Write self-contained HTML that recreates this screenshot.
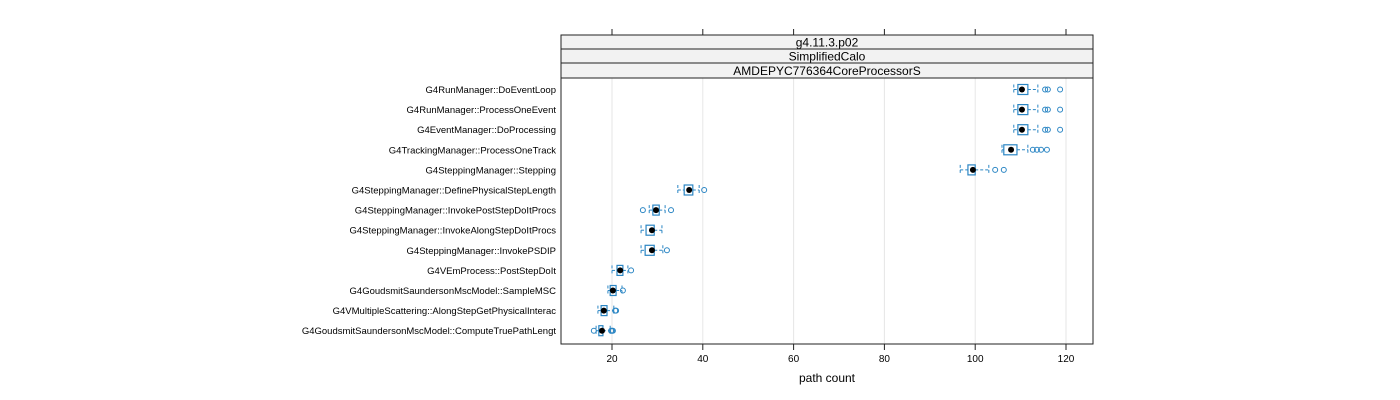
<!DOCTYPE html>
<html><head><meta charset="utf-8"><style>
body{margin:0;background:#fff;}
svg{display:block;font-family:"Liberation Sans",sans-serif;}
</style></head><body>
<svg id="chart" width="1400" height="400">
<g id="strips">
<rect x="561" y="35" width="532" height="14" fill="#f2f2f2" stroke="#222" stroke-width="1"/>
<text x="827" y="46.5" font-size="12" text-anchor="middle">g4.11.3.p02</text>
<rect x="561" y="49" width="532" height="14" fill="#f2f2f2" stroke="#222" stroke-width="1"/>
<text x="827" y="60.5" font-size="12" text-anchor="middle">SimplifiedCalo</text>
<rect x="561" y="63" width="532" height="15" fill="#f2f2f2" stroke="#222" stroke-width="1"/>
<text x="827" y="75" font-size="12" text-anchor="middle">AMDEPYC776364CoreProcessorS</text>
</g>
<g id="grid"></g>
<g id="marks"></g>
<rect x="561" y="78" width="532" height="266" fill="none" stroke="#222" stroke-width="1"/>
<g id="axes"></g>
<text x="827" y="382" font-size="12" text-anchor="middle">path count</text>
</svg>
<script>
const categories=["G4RunManager::DoEventLoop","G4RunManager::ProcessOneEvent","G4EventManager::DoProcessing","G4TrackingManager::ProcessOneTrack","G4SteppingManager::Stepping","G4SteppingManager::DefinePhysicalStepLength","G4SteppingManager::InvokePostStepDoItProcs","G4SteppingManager::InvokeAlongStepDoItProcs","G4SteppingManager::InvokePSDIP","G4VEmProcess::PostStepDoIt","G4GoudsmitSaundersonMscModel::SampleMSC","G4VMultipleScattering::AlongStepGetPhysicalInterac","G4GoudsmitSaundersonMscModel::ComputeTruePathLengt"];
const whiskerLow=[108.5,108.5,108.5,105.9,96.7,34.5,28.2,26.4,26.4,20,19.1,16.9,16.5];
const q1=[109.4,109.4,109.4,106.3,98.4,35.9,29,27.5,27.3,21.1,19.6,17.6,17.1];
const median=[110.3,110.3,110.3,107.9,99.5,37,29.7,28.8,28.8,21.8,20.2,18.2,17.8];
const q3=[111.6,111.6,111.6,109.2,100,37.8,30.4,29.3,29.3,22.4,20.9,18.9,18];
const whiskerHigh=[113.8,113.8,113.8,111.6,103,39.2,31.7,31,31.2,23.5,22.2,20.4,19.6];
const outliers=[[115.4,116,118.7],[115.4,116,118.7],[115.4,116,118.7],[112.7,113.6,114.5,115.8],[104.4,106.3],[40.3],[26.8,33],[],[32.1],[24.2],[22.4],[20.7,20.9],[16,19.8,20,20.2]];
const ticks=[20,40,60,80,100,120];
const NS="http://www.w3.org/2000/svg";
const xs=v=>612+(v-20)*4.54;
const ys=i=>89.5+i*20.1;
const col="#2b86c4";
function mk(parent,tag,attrs){const e=document.createElementNS(NS,tag);for(const k in attrs)e.setAttribute(k,attrs[k]);document.getElementById(parent).appendChild(e);return e;}
ticks.forEach(t=>{
 let g=mk("grid","line",{x1:xs(t),x2:xs(t),y1:78,y2:344,stroke:"#e6e6e6","stroke-width":1});
 
 
 let a=mk("axes","line",{x1:xs(t),x2:xs(t),y1:344,y2:350,stroke:"#222"});
 
 
 let b=mk("axes","line",{x1:xs(t),x2:xs(t),y1:29,y2:35,stroke:"#222"});
 
 
 let l=mk("axes","text",{x:xs(t),y:362,"font-size":10,"text-anchor":"middle"});
 l.textContent=t;
 
 
});
categories.forEach((c,i)=>{
 const y=ys(i);
 let l=mk("axes","text",{x:556,y:y+3.5,"font-size":9.5,"text-anchor":"end"});
 l.textContent=c;
 
 
 let w1=mk("marks","line",{x1:xs(whiskerLow[i]),x2:xs(q1[i]),y1:y,y2:y,stroke:col,"stroke-dasharray":"3,2"});
 
 
 let w2=mk("marks","line",{x1:xs(q3[i]),x2:xs(whiskerHigh[i]),y1:y,y2:y,stroke:col,"stroke-dasharray":"3,2"});
 
 
 [whiskerLow[i],whiskerHigh[i]].forEach(v=>{
  let cap=mk("marks","line",{x1:xs(v),x2:xs(v),y1:y-5,y2:y+5,stroke:col,"stroke-dasharray":"3,2"});
  
  
 });
 let bx=mk("marks","rect",{x:xs(q1[i]),y:y-5,width:xs(q3[i])-xs(q1[i]),height:10,fill:"none",stroke:col,"stroke-width":1.2});
 
 
 let m=mk("marks","circle",{cx:xs(median[i]),cy:y,r:3,fill:"#000"});
 
 
 outliers[i].forEach(v=>{
  let o=mk("marks","circle",{cx:xs(v),cy:y,r:2.5,fill:"none",stroke:col,"stroke-width":1});
  
  
 });
});
</script>
</body></html>
